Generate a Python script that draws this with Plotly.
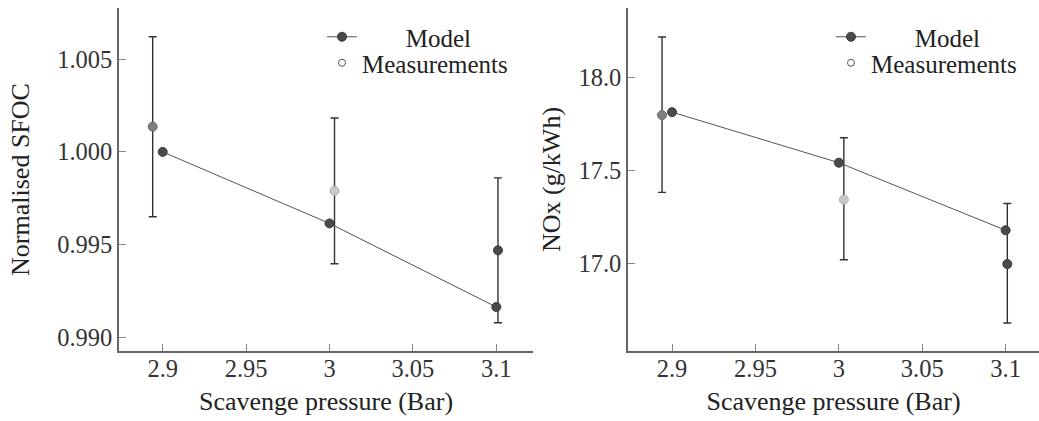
import plotly.graph_objects as go

# Scavenge pressure sweep (Bar)
model_p = [2.9, 3.0, 3.1]
meas_p = [2.894, 3.003, 3.101]

# Normalised specific fuel oil consumption
sfoc_model = [1.0000, 0.99615, 0.99165]
sfoc_meas = [1.00136, 0.99790, 0.99470]
sfoc_err_hi = [1.00620, 1.00183, 0.99860]
sfoc_err_lo = [0.99651, 0.99398, 0.99080]

# NOx emissions (g/kWh)
nox_model = [17.812, 17.541, 17.179]
nox_meas = [17.796, 17.343, 16.998]
nox_err_hi = [18.215, 17.675, 17.322]
nox_err_lo = [17.382, 17.021, 16.682]

x_ticks = [2.9, 2.95, 3.0, 3.05, 3.1]
x_tick_text = ["2.9", "2.95", "3", "3.05", "3.1"]
sfoc_ticks = [0.990, 0.995, 1.000, 1.005]
nox_ticks = [17.0, 17.5, 18.0]

# styling
FONT = "Liberation Serif"
TXT = "#222222"
AX = "#666666"
DARK = "#4a4a4a"
meas_fill = ["#808080", "#c8c8c8", "#4a4a4a"]
meas_edge = ["#6a6a6a", "#b0b0b0", "#3a3a3a"]
TICK_SIZE = 24.5
TITLE_SIZE = 26
LEG_SIZE = 25

W, H = 1039, 421

fig = go.Figure()


def add_panel(fig, xa, ya, leg_model, leg_meas, model_y, meas_y, hi, lo):
    up = [h - m for h, m in zip(hi, meas_y)]
    dn = [m - l for m, l in zip(meas_y, lo)]
    fig.add_trace(go.Scatter(
        x=meas_p, y=meas_y, mode="markers", xaxis=xa, yaxis=ya,
        showlegend=False,
        marker=dict(size=9, color=meas_fill, line=dict(color=meas_edge, width=1)),
        error_y=dict(type="data", symmetric=False, array=up, arrayminus=dn,
                     color="#333333", thickness=1.4, width=4),
    ))
    fig.add_trace(go.Scatter(
        x=model_p, y=model_y, mode="lines+markers", xaxis=xa, yaxis=ya,
        name="\u00a0" * 7 + "Model", legend=leg_model,
        line=dict(color="#555555", width=1),
        marker=dict(size=9, color=DARK, line=dict(color="#3a3a3a", width=1)),
    ))
    # legend-only entry for the measurement symbol
    fig.add_trace(go.Scatter(
        x=[None], y=[None], mode="markers", xaxis=xa, yaxis=ya,
        name="Measurements", legend=leg_meas,
        marker=dict(size=7, color="white", line=dict(color="#555555", width=1)),
    ))


add_panel(fig, "x", "y", "legend", "legend2", sfoc_model, sfoc_meas, sfoc_err_hi, sfoc_err_lo)
add_panel(fig, "x2", "y2", "legend3", "legend4", nox_model, nox_meas, nox_err_hi, nox_err_lo)

ydom = [70 / H, 413 / H]
axis_common = dict(
    showline=True, linecolor=AX, linewidth=1.5, mirror=False,
    ticks="inside", ticklen=7, tickwidth=1, tickcolor="#888888",
    showgrid=False, zeroline=False,
    tickfont=dict(family=FONT, size=TICK_SIZE, color="#333333"),
)
xaxis_common = dict(axis_common, ticklabelstandoff=-5)
xtitle = dict(text="Scavenge pressure (Bar)", font=dict(family=FONT, size=TITLE_SIZE, color=TXT), standoff=11)


def legend_box(x_px, y_px):
    return dict(x=x_px / W, y=1 - y_px / H, xanchor="left", yanchor="middle",
                bgcolor="rgba(0,0,0,0)", font=dict(family=FONT, size=LEG_SIZE, color=TXT),
                itemwidth=30)


fig.update_layout(
    width=W, height=H,
    margin=dict(l=0, r=0, t=0, b=0),
    paper_bgcolor="white", plot_bgcolor="white",
    font=dict(family=FONT, color=TXT),
    xaxis=dict(domain=[119 / W, 533 / W], range=[2.8738, 3.122],
               tickvals=x_ticks, ticktext=x_tick_text, title=xtitle, anchor="y", **xaxis_common),
    yaxis=dict(domain=ydom, range=[0.98928, 1.00775], tickvals=sfoc_ticks,
               tickformat=".3f", anchor="x",
               title=dict(text="Normalised SFOC", font=dict(family=FONT, size=TITLE_SIZE, color=TXT), standoff=20),
               **axis_common),
    xaxis2=dict(domain=[628 / W, 1.0], range=[2.8736, 3.120],
                tickvals=x_ticks, ticktext=x_tick_text, title=xtitle, anchor="y2", **xaxis_common),
    yaxis2=dict(domain=ydom, range=[16.532, 18.370], tickvals=nox_ticks,
                tickformat=".1f", anchor="x2",
                title=dict(text="NOx (g/kWh)", font=dict(family=FONT, size=TITLE_SIZE, color=TXT), standoff=10),
                **axis_common),
    legend=legend_box(322, 37),
    legend2=legend_box(322, 63),
    legend3=legend_box(831, 37),
    legend4=legend_box(831, 63),
)

fig.write_html("out.html")
